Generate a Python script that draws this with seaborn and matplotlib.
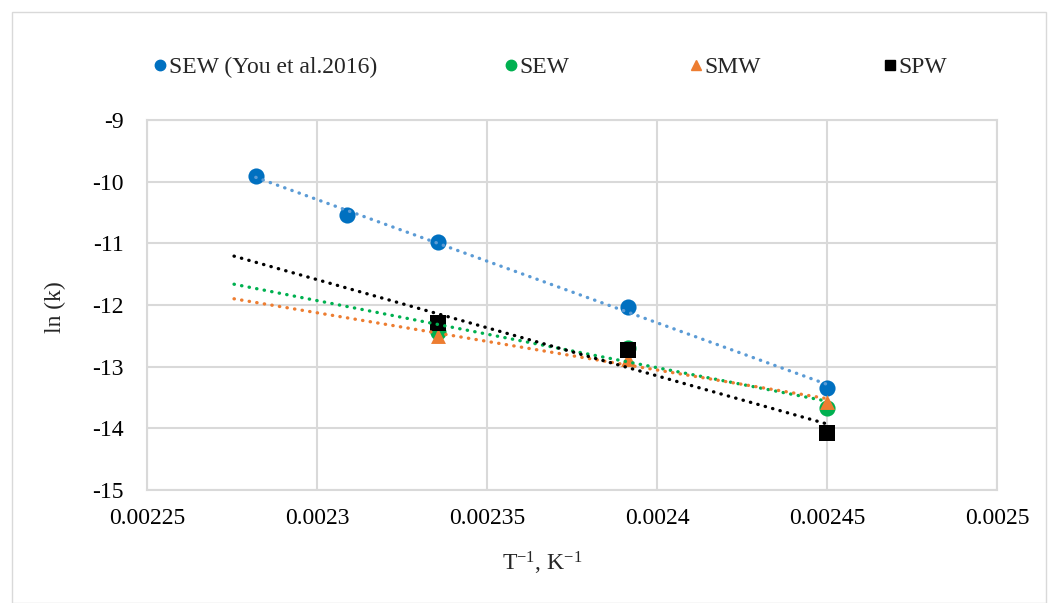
import numpy as np
import pandas as pd
import matplotlib
matplotlib.use("Agg")
import matplotlib.pyplot as plt
from matplotlib.lines import Line2D
from matplotlib.patches import Rectangle
import seaborn as sns

# Inverse temperature (1/K) and ln(k) for each series
x_you = [0.002282, 0.0023087, 0.0023356, 0.0023915, 0.0024501]
y_you = [-9.91, -10.54, -10.98, -12.03, -13.34]

x_sew = [0.0023356, 0.0023915, 0.0024501]
y_sew = [-12.43, -12.70, -13.67]

x_smw = [0.0023356, 0.0023915, 0.0024501]
y_smw = [-12.51, -12.87, -13.57]

x_spw = [0.0023356, 0.0023915, 0.0024501]
y_spw = [-12.29, -12.73, -14.07]

series_names = ["SEW (You et al.2016)", "SEW", "SMW", "SPW"]
x_ticks = [0.00225, 0.0023, 0.00235, 0.0024, 0.00245, 0.0025]
x_tick_labels = ["0.00225", "0.0023", "0.00235", "0.0024", "0.00245", "0.0025"]
y_ticks = [-15, -14, -13, -12, -11, -10, -9]

sns.set_theme(style="white")
plt.rcParams["font.family"] = ["Liberation Serif", "DejaVu Serif"]
plt.rcParams["mathtext.fontset"] = "custom"
plt.rcParams["mathtext.rm"] = "Liberation Serif"
plt.rcParams["mathtext.default"] = "regular"
plt.rcParams["axes.unicode_minus"] = False

FS = 17
marker_colors = ["#0070C0", "#00B050", "#ED7D31", "#000000"]
trend_colors = ["#5B9BD5", "#00B050", "#ED7D31", "#000000"]
markers = ["o", "o", "^", "s"]
marker_area = [135, 135, 115, 135]
backcast = [0.0, 0.00006, 0.00006, 0.00006]

fig = plt.figure(figsize=(10.5, 6.03), dpi=100)
fig.patches.append(Rectangle((0.011, 0.0), 0.985, 0.98, transform=fig.transFigure,
                             fill=False, edgecolor="#d9d9d9", linewidth=1.0))
ax = fig.add_axes([0.14, 0.1874, 0.8095, 0.6136])

frames = []
for name, xs, ys in zip(series_names,
                        [x_you, x_sew, x_smw, x_spw],
                        [y_you, y_sew, y_smw, y_spw]):
    frames.append(pd.DataFrame({"x": xs, "y": ys, "series": name}))
df = pd.concat(frames, ignore_index=True)

# data markers
for i, name in enumerate(series_names):
    sub = df[df["series"] == name]
    sns.scatterplot(data=sub, x="x", y="y", ax=ax, marker=markers[i],
                    color=marker_colors[i], s=marker_area[i],
                    edgecolor=marker_colors[i], linewidth=0, zorder=3 + i,
                    legend=False)

# linear trendlines (dotted), with backward forecast for the three samples
for i, name in enumerate(series_names):
    sub = df[df["series"] == name]
    slope, intercept = np.polyfit(sub["x"], sub["y"], 1)
    xs = np.array([sub["x"].min() - backcast[i], sub["x"].max()])
    sns.lineplot(x=xs, y=slope * xs + intercept, ax=ax, color=trend_colors[i],
                 linewidth=2.4, linestyle=(0, (0.1, 2.2)), zorder=8)
for ln in ax.get_lines():
    ln.set_dash_capstyle("round")

ax.set_xlim(0.00225, 0.0025)
ax.set_ylim(-15, -9)
ax.set_xticks(x_ticks)
ax.set_xticklabels(x_tick_labels)
ax.set_yticks(y_ticks)
ax.set_yticklabels([str(v) for v in y_ticks])
ax.tick_params(axis="both", labelsize=FS, length=0, colors="#000000")
ax.tick_params(axis="x", pad=13)
ax.tick_params(axis="y", pad=17)
ax.grid(True, color="#d9d9d9", linewidth=1.5)
ax.set_axisbelow(True)
for sp in ax.spines.values():
    sp.set_color("#d9d9d9")
    sp.set_linewidth(1.5)

ax.set_xlabel("")
ax.set_ylabel("")
fig.text(542 / 1050, 1 - 563 / 603, "T$^{-1}$, K$^{-1}$", fontsize=FS,
         ha="center", va="center")
fig.text(55 / 1050, 1 - 307 / 603, "ln (k)", fontsize=FS, rotation=90,
         ha="center", va="center")

# legend entries placed individually along the top
legend_marker_x = [158, 509, 694, 888]
for i in range(4):
    h = Line2D([], [], linestyle="none", marker=markers[i],
               color=marker_colors[i], markersize=7.5)
    leg = fig.legend([h], [series_names[i]], loc="center left",
                     bbox_to_anchor=((legend_marker_x[i] - 6) / 1050, 1 - 67 / 603),
                     frameon=False, fontsize=FS, handletextpad=0.0,
                     handlelength=0.7, borderpad=0, borderaxespad=0)

fig.savefig("out.png", dpi=100)
